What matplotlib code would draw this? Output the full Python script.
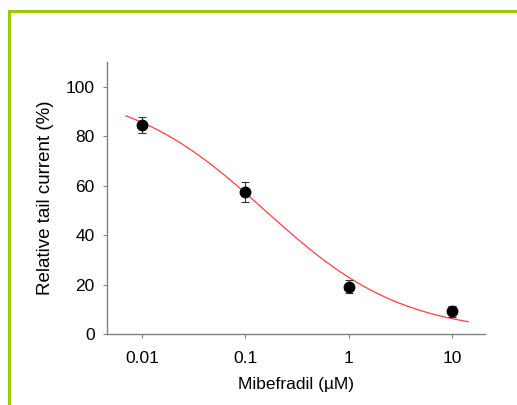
import matplotlib
matplotlib.use("Agg")
import matplotlib.pyplot as plt
from matplotlib.lines import Line2D
import numpy as np

plt.rcParams['font.family'] = ['Liberation Sans', 'DejaVu Sans']

# data
conc = [0.01, 0.1, 1, 10]
rel_current = [84.5, 57.5, 19.2, 9.2]
err = [3.2, 4.0, 2.5, 2.3]

# Hill fit parameters (estimated)
top = 100.0
ic50 = 0.155
hill_n = 0.65

fig = plt.figure(figsize=(5.17, 4.05), dpi=100)
ax = fig.add_axes([0.207, 0.175, 0.731, 0.672])

# fitted curve
xf = np.logspace(np.log10(0.007), np.log10(14.3), 200)
yf = top / (1 + (xf / ic50) ** hill_n)
ax.plot(xf, yf, color='#ff4040', lw=0.9)

ax.errorbar(conc, rel_current, yerr=err, fmt='o', color='black', ms=7.5,
            ecolor='#333333', elinewidth=0.8, capsize=3, capthick=0.8)

ax.set_xscale('log')
ax.set_xlim(10 ** -2.337, 10 ** 1.317)
ax.set_ylim(0, 110)
ax.set_xticks([0.01, 0.1, 1, 10])
ax.set_xticklabels(['0.01', '0.1', '1', '10'])
ax.minorticks_off()
ax.set_yticks([0, 20, 40, 60, 80, 100])

for s in ['top', 'right']:
    ax.spines[s].set_visible(False)
for s in ['left', 'bottom']:
    ax.spines[s].set_color('#808080')
    ax.spines[s].set_linewidth(1.0)
ax.tick_params(colors='#808080', labelcolor='black', labelsize=12.5,
               length=3, width=0.8, direction='out')
ax.tick_params(axis='x', pad=9)
ax.tick_params(axis='y', pad=6)

ax.set_xlabel('Mibefradil (µM)', fontsize=12.5, labelpad=8)
ax.set_ylabel('Relative tail current (%)', fontsize=13.5, labelpad=8)

# green frame lines at top and left
green = '#99cc00'
fig.add_artist(Line2D([9 / 517, 1], [1 - 10.5 / 405, 1 - 10.5 / 405],
                      color=green, lw=2.2, transform=fig.transFigure))
fig.add_artist(Line2D([9 / 517, 9 / 517], [0, 1 - 10.5 / 405],
                      color=green, lw=2.2, transform=fig.transFigure))

fig.savefig('out.png', dpi=100)
